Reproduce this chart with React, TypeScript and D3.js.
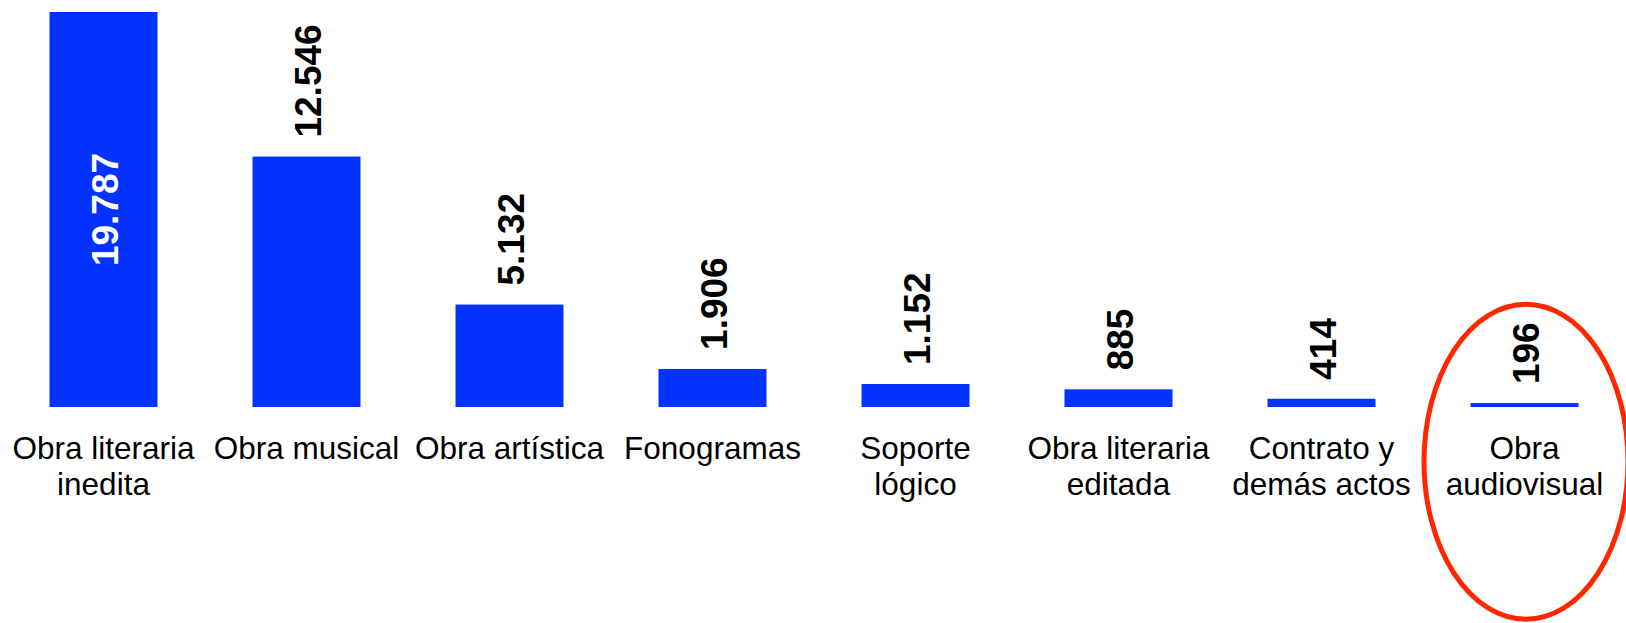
import React from "react";
import * as d3 from "d3";

const categories: string[][] = [
  ["Obra literaria", "inedita"],
  ["Obra musical"],
  ["Obra artística"],
  ["Fonogramas"],
  ["Soporte", "lógico"],
  ["Obra literaria", "editada"],
  ["Contrato y", "demás actos"],
  ["Obra", "audiovisual"],
];
const values: number[] = [19787, 12546, 5132, 1906, 1152, 885, 414, 196];
const highlightIndex = 7;

const W = 1626;
const H = 623;
const FONT = "'Liberation Sans', Arial, Helvetica, sans-serif";
const BLUE = "#0433ff";
const RED = "#ff2600";

const locale = d3.formatLocale({
  decimal: ",",
  thousands: ".",
  grouping: [3],
  currency: ["", ""],
});
const fmt = locale.format(",d");

export default function App() {
  const keys = categories.map((c) => c.join(" "));
  const x = d3
    .scaleBand<string>()
    .domain(keys)
    .range([2, 1626])
    .paddingInner(0.468)
    .paddingOuter(0.234);
  const y = d3.scaleLinear().domain([0, 19787]).range([407, 12]);
  const bw = x.bandwidth();
  const insideMin = 15000;

  const hk = keys[highlightIndex];
  const hcx = (x(hk) ?? 0) + bw / 2 + 1.5;

  return (
    <svg
      width={W}
      height={H}
      style={{ position: "absolute", left: 0, top: 0, display: "block", background: "#fff" }}
      fontFamily={FONT}
    >
      <rect x={0} y={0} width={W} height={H} fill="#fff" />
      {values.map((v, i) => {
        const k = keys[i];
        const x0 = x(k) ?? 0;
        const cx = x0 + bw / 2;
        const top = y(v);
        const inside = v >= insideMin;
        const ly = inside ? (top + y(0)) / 2 : top - 19;
        return (
          <g key={k}>
            <rect x={x0} y={top} width={bw} height={y(0) - top} fill={BLUE} />
            <text
              transform={`translate(${cx},${ly}) rotate(-90)`}
              textAnchor={inside ? "middle" : "start"}
              dy="0.4em"
              fontSize={37}
              fontWeight="bold"
              fill={inside ? "#fff" : "#000"}
            >
              {fmt(v)}
            </text>
            <text x={cx} y={459} textAnchor="middle" fontSize={31.5} fill="#000">
              {categories[i].map((line, j) => (
                <tspan key={j} x={cx} y={459 + j * 36}>
                  {line}
                </tspan>
              ))}
            </text>
          </g>
        );
      })}
      <ellipse cx={hcx} cy={461.7} rx={102} ry={157.5} fill="none" stroke={RED} strokeWidth={5} />
    </svg>
  );
}
